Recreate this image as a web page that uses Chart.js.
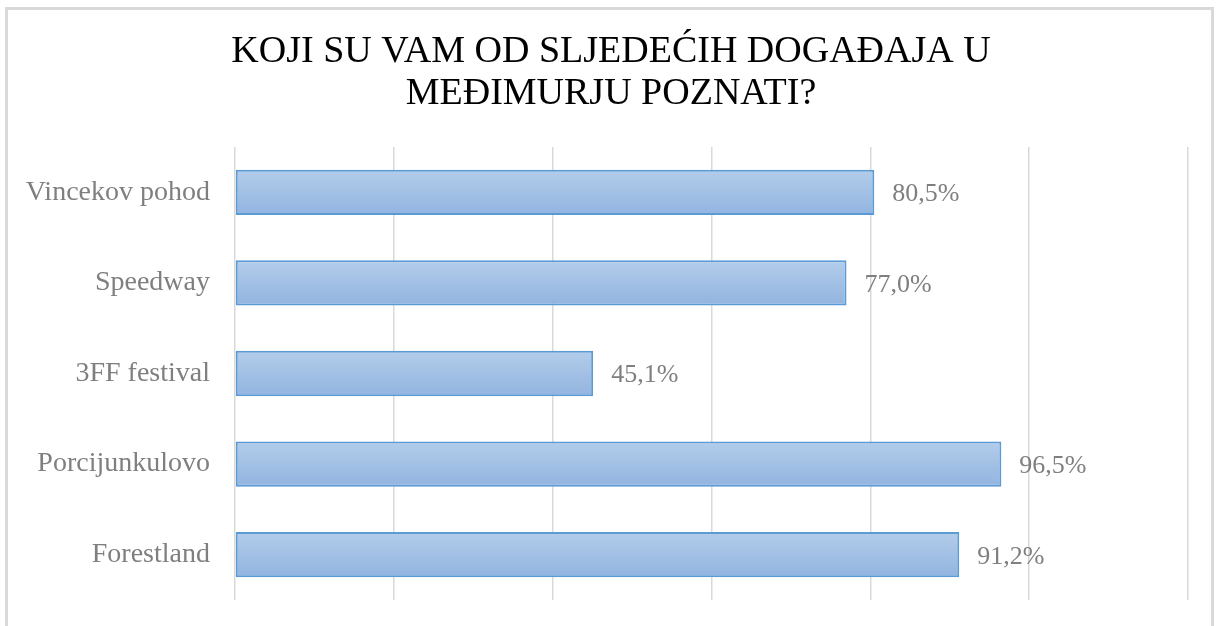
<!DOCTYPE html>
<html>
<head>
<meta charset="utf-8">
<script src="https://cdn.jsdelivr.net/npm/chart.js@4"></script>
<style>
  html, body { margin: 0; padding: 0; background: #fff; overflow: hidden; }
  #frame {
    position: absolute; left: 5px; top: 7px;
    width: 1203px; height: 630px;
    border: 3px solid #d9d9d9; border-bottom: none;
  }
  canvas { display: block; }
</style>
</head>
<body>
<div id="frame"><canvas id="myChart" width="1203" height="616"></canvas></div>
<script>
// categories and values (percent)
var events = ["Vincekov pohod", "Speedway", "3FF festival", "Porcijunkulovo", "Forestland"];
var known = [80.5, 77.0, 45.1, 96.5, 91.2];
var axisTicks = [0, 20, 40, 60, 80, 100, 120];

var serif = "'Liberation Serif', 'Times New Roman', serif";

function barFill(ctx) {
    var chart = ctx.chart;
    var y = chart.scales.y;
    if (!y || ctx.dataIndex === undefined || !chart.chartArea) return "#a3c1e6";
    var c = y.getPixelForValue(ctx.dataIndex);
    var h = y.getPixelForTick(1) - y.getPixelForTick(0);
    if (!isFinite(c) || !isFinite(h)) return "#a3c1e6";
    var g = chart.ctx.createLinearGradient(0, c - h / 4, 0, c + h / 4);
    g.addColorStop(0, "#b3cdea");
    g.addColorStop(1, "#92b4e0");
    return g;
}

// draws the "80,5%" style labels after each bar
var valueLabels = {
    id: "valueLabels",
    afterDatasetsDraw: function (chart) {
        var ctx = chart.ctx;
        var meta = chart.getDatasetMeta(0);
        ctx.save();
        ctx.font = "26px " + serif;
        ctx.fillStyle = "#7f7f7f";
        ctx.textAlign = "left";
        ctx.textBaseline = "middle";
        meta.data.forEach(function (bar, i) {
            var txt = known[i].toFixed(1).replace(".", ",") + "%";
            ctx.fillText(txt, bar.x + 18, bar.y + 2);
        });
        ctx.restore();
    }
};

new Chart("myChart", {
    type: "bar",
    data: {
        labels: events,
        datasets: [{
            data: known,
            backgroundColor: barFill,
            borderColor: "#5b9bd5",
            borderWidth: 2,
            borderSkipped: false,
            categoryPercentage: 1,
            barPercentage: 0.5
        }]
    },
    options: {
        indexAxis: "y",
        responsive: false,
        animation: false,
        layout: { padding: { left: 3, right: 0, top: 0, bottom: 26 } },
        plugins: {
            legend: { display: false },
            tooltip: { enabled: false },
            title: {
                display: true,
                text: ["KOJI SU VAM OD SLJEDEĆIH DOGAĐAJA U", "MEĐIMURJU POZNATI?"],
                color: "#000",
                font: { family: serif, size: 38, weight: "normal", lineHeight: 42 / 38 },
                padding: { top: 20.6, bottom: 32.4 }
            }
        },
        scales: {
            x: {
                min: 0,
                max: 120,
                afterBuildTicks: function (scale) {
                    scale.ticks = axisTicks.map(function (v) { return { value: v }; });
                },
                afterFit: function (scale) { scale.height = 0; },
                ticks: { display: false },
                grid: { color: "#d9d9d9", lineWidth: 1.5, drawTicks: false },
                border: { display: false }
            },
            y: {
                afterFit: function (scale) {
                    scale.width = 224;
                    scale.paddingTop = 0;
                    scale.paddingBottom = 0;
                },
                ticks: {
                    color: "#7f7f7f",
                    padding: 25,
                    font: { family: serif, size: 28 }
                },
                grid: { display: false, drawTicks: false },
                border: { display: false }
            },
            // empty right-hand strip, keeps the plot off the frame's right edge
            yRight: {
                type: "category",
                position: "right",
                afterFit: function (scale) {
                    scale.width = 23;
                    scale.paddingTop = 0;
                    scale.paddingBottom = 0;
                },
                ticks: { display: false },
                grid: { display: false, drawTicks: false },
                border: { display: false }
            }
        }
    },
    plugins: [valueLabels]
});
</script>
</body>
</html>
